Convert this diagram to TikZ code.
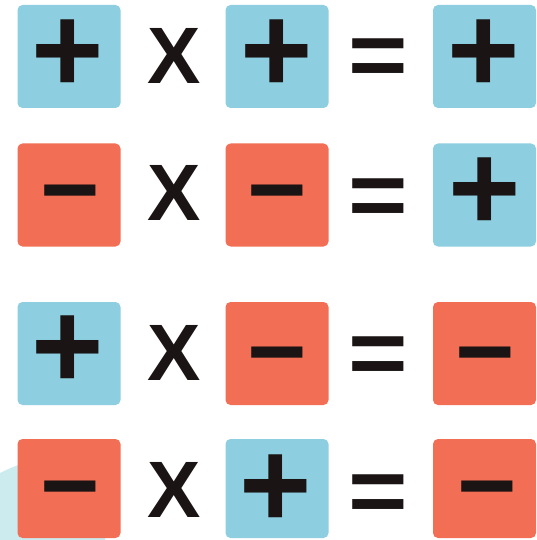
\documentclass[tikz,border=0pt]{standalone}
\usepackage{fontspec}
\usepackage{graphicx}
\setmainfont{Liberation Sans}
\definecolor{tblue}{HTML}{8DCFE0}
\definecolor{tred}{HTML}{F26E54}
\definecolor{ink}{HTML}{1A1414}
\definecolor{blob}{HTML}{CBEBEF}
\tikzset{
  tile/.style={rounded corners=5pt, minimum width=103pt, minimum height=103pt, inner sep=0pt, draw=none},
  bluetile/.style={tile, fill=tblue},
  redtile/.style={tile, fill=tred},
  glyph/.style={inner sep=0pt, text=ink, minimum width=80pt, minimum height=80pt},
  plussign/.style={glyph, font=\bfseries\fontsize{124}{124}\selectfont},
  minussign/.style={glyph, yshift=-14pt, font=\bfseries\fontsize{102}{102}\selectfont},
  eqsign/.style={glyph, minimum width=60pt, yshift=-8pt, font=\bfseries\fontsize{102}{102}\selectfont},
  timessign/.style={glyph, minimum width=60pt, font=\bfseries\fontsize{80}{80}\selectfont}
}
\newcommand{\eqglyph}{\scalebox{1}[0.9]{=}}
\begin{document}
\begin{tikzpicture}[x=1pt,y=-1pt]
\useasboundingbox (0,0) rectangle (537,540);
\fill[white] (0,0) rectangle (537,540);
% light background blob
\fill[blob] (0,540) -- (0,473) .. controls (30,458) and (70,448) .. (105,446) -- (105,540) -- cycle;
% row 1
\node[bluetile] (a1) at (69,56.5) {};
\node[bluetile] (b1) at (277,56.5) {};
\node[bluetile] (c1) at (484.5,56.5) {};
% row 2
\node[redtile] (a2) at (69,195) {};
\node[redtile] (b2) at (277,195) {};
\node[bluetile] (c2) at (484.5,195) {};
% row 3
\node[bluetile] (a3) at (69,353.5) {};
\node[redtile] (b3) at (277,353.5) {};
\node[redtile] (c3) at (484.5,353.5) {};
% row 4
\node[redtile, minimum height=99pt] (a4) at (69,488.5) {};
\node[bluetile, minimum height=99pt] (b4) at (277,488.5) {};
\node[redtile, minimum height=99pt] (c4) at (484.5,488.5) {};
% signs in tiles
\node[plussign] (sa1) at (68,56) {+};
\node[plussign] (sb1) at (276.5,56) {+};
\node[plussign] (sc1) at (484,56) {+};
\node[minussign] (sa2) at (70.5,191) {−};
\node[minussign] (sb2) at (277,190.5) {−};
\node[plussign] (sc2) at (484.5,194) {+};
\node[plussign] (sa3) at (68,352.5) {+};
\node[minussign] (sb3) at (277,353) {−};
\node[minussign] (sc3) at (485,353) {−};
\node[minussign] (sa4) at (70.5,486.5) {−};
\node[plussign] (sb4) at (276,491) {+};
\node[minussign] (sc4) at (487,486.5) {−};
% operators
\node[timessign] (x1) at (174,56) {X};
\node[timessign] (x2) at (174,193) {X};
\node[timessign] (x3) at (174,353) {X};
\node[timessign] (x4) at (174,490) {X};
\node[eqsign] (e1) at (378.5,55) {\eqglyph};
\node[eqsign] (e2) at (378.5,194.5) {\eqglyph};
\node[eqsign] (e3) at (378.5,353) {\eqglyph};
\node[eqsign] (e4) at (378.5,491) {\eqglyph};
\end{tikzpicture}
\end{document}
